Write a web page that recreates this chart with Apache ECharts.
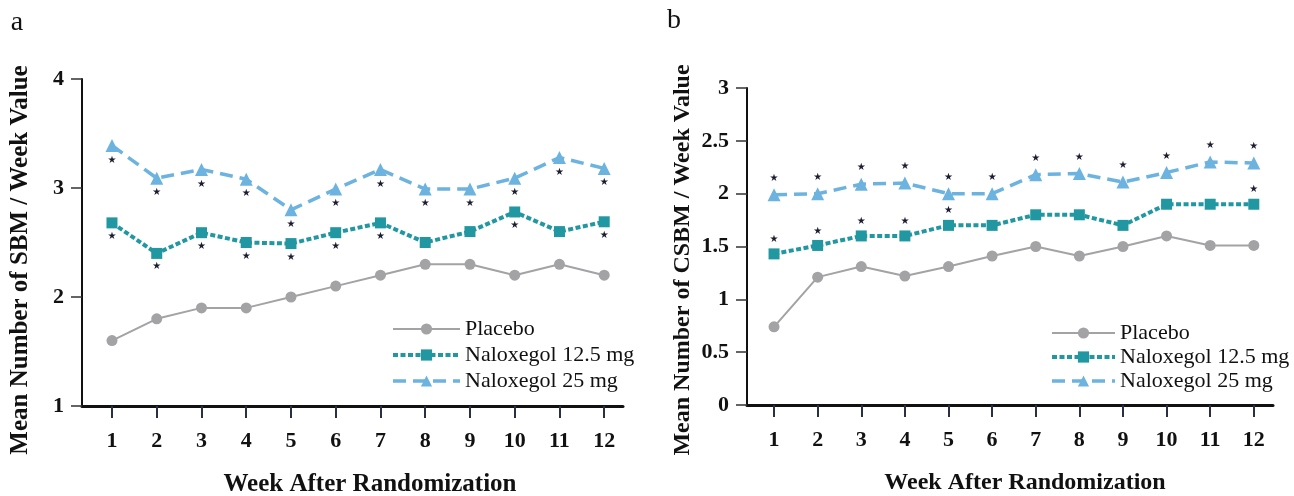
<!DOCTYPE html>
<html><head><meta charset="utf-8">
<script src="https://cdn.jsdelivr.net/npm/echarts@6/dist/echarts.min.js"></script>
<style>html,body{margin:0;padding:0;background:#fff}#c{width:1294px;height:496px}</style>
</head><body><div id="c"></div>
<script>
const weeks = [1,2,3,4,5,6,7,8,9,10,11,12];
const weekLabels = ['1','2','3','4','5','6','7','8','9','10','11','12'];
// Panel a: SBM
const placeboA = [1.6,1.8,1.9,1.9,2.0,2.1,2.2,2.3,2.3,2.2,2.3,2.2];
const nal125A  = [2.68,2.4,2.59,2.5,2.49,2.59,2.68,2.5,2.6,2.78,2.6,2.69];
const nal25A   = [3.39,3.09,3.17,3.08,2.8,2.99,3.17,2.99,2.99,3.09,3.28,3.18];
const sig125A  = [1,1,1,1,1,1,1,0,0,1,0,1];
const sig25A   = [1,1,1,1,1,1,1,1,1,1,1,1];
// Panel b: CSBM
const placeboB = [0.74,1.21,1.31,1.22,1.31,1.41,1.5,1.41,1.5,1.6,1.51,1.51];
const nal125B  = [1.43,1.51,1.6,1.6,1.7,1.7,1.8,1.8,1.7,1.9,1.9,1.9];
const nal25B   = [1.99,2.0,2.09,2.1,2.0,2.0,2.18,2.19,2.11,2.2,2.3,2.29];
const sig125B  = [1,1,1,1,1,0,0,0,0,0,0,1];
const sig25B   = [1,1,1,1,1,1,1,1,1,1,1,1];

const names = ['Placebo','Naloxegol 12.5 mg','Naloxegol 25 mg'];
const GRAY='#a3a3a6', TEAL='#2197a1', BLUE='#6cb3df';
const serif = '"Liberation Serif","Times New Roman",serif';
const styles = [
  {color:GRAY, width:2, type:'solid', symbol:'circle', size:11},
  {color:TEAL, width:4, type:[5,2.5], symbol:'rect', size:11},
  {color:BLUE, width:3.5, type:[13,7], symbol:'triangle', size:13}
];

function pts(vals, sig, pos){
  return weeks.map((w,i)=>({value:[w,vals[i]], label:{show: !!(sig && sig[i]), position: pos}}));
}
const starLabel = (pos, dist) => ({show:false, position:pos, distance:dist, formatter:'★', fontSize:10, color:'#1c1c30', fontFamily:'DejaVu Sans'});

function series(gi, set, pos, dist){
  const [p, n1, n2, s1, s2] = set;
  const vals=[p,n1,n2], sigs=[null,s1,s2];
  return styles.map((st,k)=>({
    name:names[k], type:'line', xAxisIndex:gi, yAxisIndex:gi, data:pts(vals[k],sigs[k],pos),
    symbol:st.symbol, symbolSize:st.size, lineStyle:{color:st.color,width:st.width,type:st.type},
    itemStyle:{color:st.color}, label:starLabel(pos, dist + (k===2 && pos==='top'?1:0)),
    emphasis:{disabled:true}, animation:false, z:2+k}));
}

function xAxis(gi, min, max){
  return {type:'value', gridIndex:gi, min, max,
    axisLine:{show:true, onZero:false, lineStyle:{color:'#111', width:3}},
    axisTick:{show:true, customValues:weeks, length:12, lineStyle:{color:'#2a2f45', width:2}},
    axisLabel:{customValues:weeks, formatter:v=>weekLabels[weeks.indexOf(v)], margin:24,
      fontFamily:serif, fontWeight:'bold', fontSize:22, color:'#111'},
    splitLine:{show:false}};
}
function yAxis(gi, min, max, interval){
  return {type:'value', gridIndex:gi, min, max, interval,
    axisLine:{show:true, lineStyle:{color:'#111', width:2}},
    axisTick:{show:true, length:11, lineStyle:{color:'#333', width:1.5}},
    axisLabel:{margin:18, fontFamily:serif, fontWeight:'bold', fontSize:22, color:'#111',
      formatter:v=>String(v)},
    splitLine:{show:false}};
}
function legend(left, top, w, gap){
  return {orient:'vertical', left, top, padding:0, itemWidth:w, itemHeight:14, itemGap:gap,
    data:names.map((n,k)=>({name:n, lineStyle:{color:styles[k].color, width:styles[k].width, type:styles[k].type},
      itemStyle:{color:styles[k].color}})),
    textStyle:{fontFamily:serif, fontSize:22, color:'#111', lineHeight:22}, selectedMode:false};
}

const chart = echarts.init(document.getElementById('c'), null, {renderer:'canvas'});
chart.setOption({
  backgroundColor:'#fff',
  animation:false,
  grid:[
    {left:82, top:79, width:541, height:327},
    {left:747, top:88, width:526, height:317}
  ],
  xAxis:[xAxis(0,0.33,12.42), xAxis(1,0.38,12.44)],
  yAxis:[yAxis(0,1,4,1), yAxis(1,0,3,0.5)],
  legend:[legend(391,318,67,4), legend(1050,322,63,2)],
  series:[
    ...series(0,[placeboA,nal125A,nal25A,sig125A,sig25A],'bottom',3),
    ...series(1,[placeboB,nal125B,nal25B,sig125B,sig25B],'top',4)
  ],
  graphic:[
    {type:'text', x:17, y:23, style:{text:'a', font:'28px '+serif, fill:'#111', align:'center', verticalAlign:'middle'}},
    {type:'text', x:674, y:21, style:{text:'b', font:'28px '+serif, fill:'#111', align:'center', verticalAlign:'middle'}},
    {type:'text', x:370, y:485, style:{text:'Week After Randomization', font:'bold 25px '+serif, fill:'#111', align:'center', verticalAlign:'middle'}},
    {type:'text', x:1025, y:483, style:{text:'Week After Randomization', font:'bold 24px '+serif, fill:'#111', align:'center', verticalAlign:'middle'}},
    {type:'text', x:21, y:260, rotation:Math.PI/2, style:{text:'Mean Number of SBM / Week Value', font:'bold 25px '+serif, fill:'#111', align:'center', verticalAlign:'middle'}},
    {type:'text', x:683, y:260, rotation:Math.PI/2, style:{text:'Mean Number of CSBM / Week Value', font:'bold 24px '+serif, fill:'#111', align:'center', verticalAlign:'middle'}}
  ]
});
</script></body></html>
